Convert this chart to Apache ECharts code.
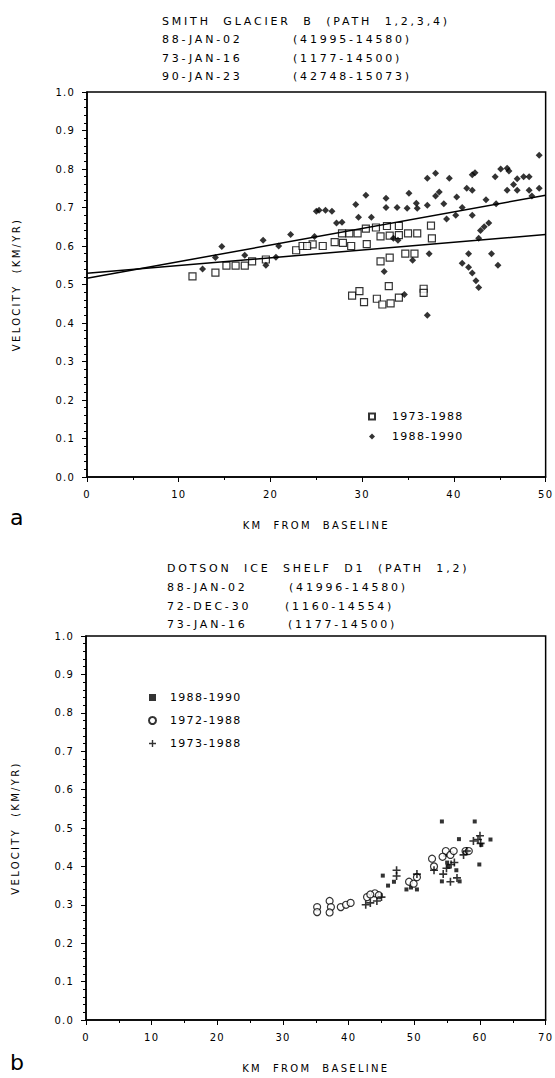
<!DOCTYPE html>
<html>
<head>
<meta charset="utf-8">
<script src="https://cdn.jsdelivr.net/npm/echarts@6/dist/echarts.min.js"></script>
<style>
body{ margin:0; background:#fff; }
#SmithChart{ width:555px; height:540px; }
#DotsonChart{ width:555px; height:538px; }
/* the plotter lettering is spaced wide; the fallback family name only marks the text kind */
svg text{ white-space:pre; }
svg text[style*="ttl"]{ letter-spacing:2.8px; }
svg text[style*="axn"]{ letter-spacing:2.3px; }
svg text[style*="tck"]{ letter-spacing:1.2px; }
svg text[style*="lgd"]{ letter-spacing:1.3px; }
</style>
</head>
<body>
<div id="SmithChart"></div>
<div id="DotsonChart"></div>
<script>
// panel a: Smith Glacier B, [km from baseline, velocity km/yr]
const smithOld = [
    [11.5,0.521],[14.0,0.531],[15.2,0.549],[16.2,0.549],[17.2,0.549],[18.0,0.560],[19.5,0.565],
    [22.8,0.589],[23.5,0.600],[24.6,0.604],[24.0,0.600],[25.7,0.600],[27.0,0.610],[27.9,0.608],
    [28.8,0.600],[30.5,0.605],[27.8,0.633],[28.6,0.633],[29.5,0.633],[30.4,0.645],[31.5,0.648],
    [32.7,0.652],[34.0,0.652],[32.0,0.625],[33.0,0.627],[34.0,0.628],[35.0,0.633],[36.0,0.633],
    [37.5,0.653],[37.6,0.620],[34.7,0.580],[35.7,0.580],[32.0,0.560],[33.0,0.570],
    [28.9,0.471],[29.7,0.483],[30.2,0.454],[31.6,0.463],[32.2,0.448],[33.1,0.451],[34.0,0.466],
    [32.9,0.496],[36.7,0.489],[36.7,0.478]
];
const smithNew = [
    [12.6,0.540],[14.0,0.570],[14.7,0.599],[17.2,0.576],[19.2,0.615],[19.5,0.550],[20.6,0.571],
    [20.9,0.600],[22.2,0.630],[24.8,0.625],[25.0,0.690],[25.3,0.693],[26.0,0.693],[26.7,0.690],
    [27.2,0.660],[27.8,0.662],[29.3,0.708],[29.6,0.675],[30.4,0.732],[31.0,0.675],[32.6,0.724],
    [32.6,0.700],[33.8,0.700],[34.9,0.698],[35.1,0.737],[35.9,0.711],[36.0,0.698],[37.1,0.706],
    [37.1,0.776],[38.0,0.789],[39.5,0.776],[38.0,0.730],[38.4,0.740],[38.9,0.710],[39.2,0.670],
    [40.3,0.727],[40.9,0.700],[40.2,0.680],[42.0,0.680],[41.4,0.750],[42.0,0.745],[42.0,0.785],
    [42.3,0.790],[43.5,0.720],[44.6,0.710],[44.5,0.780],[45.1,0.800],[45.8,0.802],[46.0,0.795],
    [45.8,0.745],[46.5,0.760],[46.9,0.775],[47.6,0.780],[48.2,0.780],[46.9,0.745],[48.2,0.745],
    [48.5,0.730],[49.3,0.836],[49.3,0.750],[42.9,0.640],[43.3,0.650],[43.8,0.660],[42.7,0.620],
    [41.6,0.580],[44.1,0.580],[44.8,0.550],[37.3,0.580],[35.5,0.563],[32.4,0.534],[40.9,0.555],
    [41.6,0.545],[42.0,0.530],[42.4,0.510],[42.7,0.492],[37.1,0.420],[34.6,0.474],[33.4,0.620],
    [33.9,0.615]
];
const smithFitFlat = [[0,0.529],[50,0.630]];
const smithFitSteep = [[0,0.516],[50,0.732]];
const smithTicksX = [0, 50, 10];

// panel b: Dotson Ice Shelf D1
const dotsonNew = [
    [45.2,0.376],[46.0,0.350],[46.9,0.360],[48.8,0.340],[49.5,0.345],[50.4,0.340],[54.2,0.517],
    [59.2,0.517],[56.8,0.471],[61.6,0.470],[60.2,0.456],[59.9,0.405],[54.2,0.361],[56.9,0.361],
    [55.2,0.400],[55.0,0.410],[56.4,0.390],[54.7,0.430]
];
const dotson72 = [
    [35.2,0.294],[35.2,0.281],[37.1,0.310],[37.3,0.294],[37.1,0.280],[38.8,0.294],[39.6,0.300],
    [40.3,0.305],[42.8,0.320],[44.0,0.330],[44.6,0.325],[43.3,0.327],[49.2,0.360],[49.9,0.355],
    [50.4,0.372],[52.7,0.420],[53.0,0.400],[54.8,0.440],[54.3,0.425],[55.5,0.430],[57.8,0.440],
    [58.3,0.440],[56.0,0.440]
];
const dotson73 = [
    [42.6,0.300],[43.3,0.305],[44.3,0.310],[45.0,0.320],[47.3,0.390],[47.3,0.375],[50.4,0.380],
    [53.0,0.390],[54.4,0.380],[55.6,0.405],[56.1,0.410],[54.9,0.395],[59.0,0.466],[59.7,0.470],
    [60.0,0.480],[60.1,0.460],[57.5,0.430],[58.0,0.440],[55.5,0.360],[56.5,0.370]
];
const dotsonTicksX = [0, 70, 10];
const velocityTicks = [0, 1, 0.1];

const FONT = '"DejaVu Sans"';
const plusPath = 'path://M4,0H6V4H10V6H6V10H4V6H0V4H4Z';

function xAxisOf(ticks){
    return {
        type:'value', min:ticks[0], max:ticks[1], interval:ticks[2],
        name:'KM  FROM  BASELINE', nameLocation:'middle', nameGap:43,
        nameTextStyle:{ color:'#000', fontFamily:FONT+', axn', fontSize:10 },
        axisLine:{ lineStyle:{ color:'#000', width:1.5 } },
        axisTick:{ length:5, lineStyle:{ color:'#000' } },
        minorTick:{ show:true, splitNumber:2, length:3, lineStyle:{ color:'#000' } },
        splitLine:{ show:false },
        axisLabel:{ color:'#000', fontFamily:FONT+', tck', fontSize:10, margin:12 }
    }
}
function yAxisOf(){
    return {
        type:'value', min:velocityTicks[0], max:velocityTicks[1], interval:velocityTicks[2],
        name:'VELOCITY  (KM/YR)', nameLocation:'middle', nameGap:66,
        nameTextStyle:{ color:'#000', fontFamily:FONT+', axn', fontSize:10 },
        axisLine:{ lineStyle:{ color:'#000', width:1.5 } },
        axisTick:{ length:5, lineStyle:{ color:'#000' } },
        minorTick:{ show:true, splitNumber:5, length:3, lineStyle:{ color:'#000' } },
        splitLine:{ show:false },
        axisLabel:{ color:'#000', fontFamily:FONT+', tck', fontSize:10, margin:12,
            formatter:v => v.toFixed(1) }
    }
}
function textAt(x, y, s, size, kind){
    return { type:'text', x:x, y:y,
        style:{ text:s, fill:'#000', font:size+'px '+FONT+', '+kind, textVerticalAlign:'middle' } }
}

let smithChart = echarts.init(document.getElementById('SmithChart'), null, { renderer:'svg' });
smithChart.setOption({
    animation:false,
    backgroundColor:'#fff',
    grid:{ left:87, top:92, width:460, height:385, show:true, borderColor:'#000', borderWidth:1.5 },
    xAxis: xAxisOf(smithTicksX),
    yAxis: yAxisOf(),
    legend:{
        left:363, top:406, orient:'vertical', itemGap:9, itemWidth:6, itemHeight:6,
        data:['1973-1988','1988-1990'],
        textStyle:{ color:'#000', fontFamily:FONT+', lgd', fontSize:11, padding:[0,0,0,12] }
    },
    graphic:[
        textAt(162, 21, 'SMITH  GLACIER  B  (PATH  1,2,3,4)', 11, 'ttl'),
        textAt(162, 39, '88-JAN-02', 11, 'ttl'), textAt(293, 39, '(41995-14580)', 11, 'ttl'),
        textAt(162, 58, '73-JAN-16', 11, 'ttl'), textAt(293, 58, '(1177-14500)', 11, 'ttl'),
        textAt(162, 76, '90-JAN-23', 11, 'ttl'), textAt(293, 76, '(42748-15073)', 11, 'ttl'),
        textAt(10, 517, 'a', 22, 'sans-serif')
    ],
    series:[
        { type:'line', data:smithFitFlat, symbol:'none', silent:true, lineStyle:{ color:'#000', width:1.5 } },
        { type:'line', data:smithFitSteep, symbol:'none', silent:true, lineStyle:{ color:'#000', width:1.5 } },
        { name:'1973-1988', type:'scatter', data:smithOld, symbol:'rect', symbolSize:7,
          itemStyle:{ color:'#fff', borderColor:'#000', borderWidth:1.2 } },
        { name:'1988-1990', type:'scatter', data:smithNew, symbol:'diamond', symbolSize:7,
          itemStyle:{ color:'#000' } }
    ]
});

let dotsonChart = echarts.init(document.getElementById('DotsonChart'), null, { renderer:'svg' });
dotsonChart.setOption({
    animation:false,
    backgroundColor:'#fff',
    grid:{ left:86, top:96, width:461, height:385, show:true, borderColor:'#000', borderWidth:1.5 },
    xAxis: xAxisOf(dotsonTicksX),
    yAxis: yAxisOf(),
    legend:{
        left:143, top:147, orient:'vertical', itemGap:12, itemWidth:7, itemHeight:7,
        data:['1988-1990','1972-1988','1973-1988'],
        textStyle:{ color:'#000', fontFamily:FONT+', lgd', fontSize:11, padding:[0,0,0,9] }
    },
    graphic:[
        textAt(167, 28, 'DOTSON  ICE  SHELF  D1  (PATH  1,2)', 11, 'ttl'),
        textAt(167, 47, '88-JAN-02', 11, 'ttl'), textAt(289, 47, '(41996-14580)', 11, 'ttl'),
        textAt(167, 66, '72-DEC-30', 11, 'ttl'), textAt(285, 66, '(1160-14554)', 11, 'ttl'),
        textAt(167, 84, '73-JAN-16', 11, 'ttl'), textAt(288, 84, '(1177-14500)', 11, 'ttl'),
        textAt(10, 522, 'b', 22, 'sans-serif')
    ],
    series:[
        { name:'1988-1990', type:'scatter', data:dotsonNew, symbol:'rect', symbolSize:4,
          itemStyle:{ color:'#000' } },
        { name:'1972-1988', type:'scatter', data:dotson72, symbol:'circle', symbolSize:7,
          itemStyle:{ color:'#fff', borderColor:'#000', borderWidth:1.2 } },
        { name:'1973-1988', type:'scatter', data:dotson73, symbol:plusPath, symbolSize:8,
          itemStyle:{ color:'#000' } }
    ]
});
</script>
</body>
</html>
